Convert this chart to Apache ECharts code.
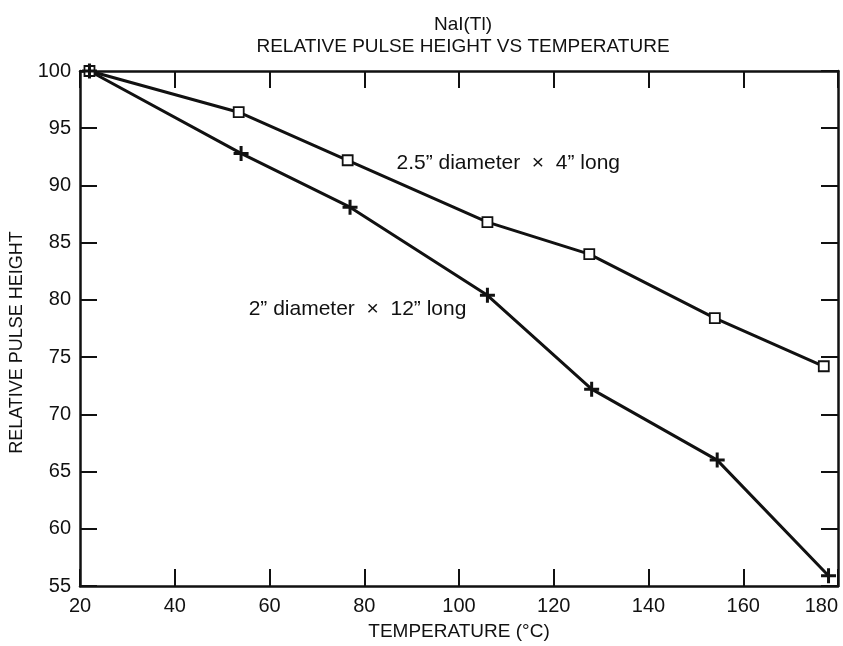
<!DOCTYPE html>
<html>
<head>
<meta charset="utf-8">
<script src="https://cdn.jsdelivr.net/npm/echarts@6/dist/echarts.min.js"></script>
<style>
html,body{margin:0;padding:0;background:#fff;}
#chart{width:843px;height:646px;}
</style>
</head>
<body>
<div id="chart"></div>
<script>
// Data
var titleLines = ['NaI(Tl)', 'RELATIVE PULSE HEIGHT VS TEMPERATURE'];
var xTicks = [20, 40, 60, 80, 100, 120, 140, 160, 180];
var yTicks = [55, 60, 65, 70, 75, 80, 85, 90, 95, 100];
var seriesANames = '2.5\u201d diameter \u00d7 4\u201d long';
var seriesATemp = [22, 53.5, 76.5, 106, 127.5, 154, 177];
var seriesAVal  = [100, 96.4, 92.2, 86.8, 84.0, 78.4, 74.2];
var seriesBNames = '2\u201d diameter \u00d7 12\u201d long';
var seriesBTemp = [22, 54, 77, 106, 128, 154.5, 178];
var seriesBVal  = [100, 92.8, 88.1, 80.4, 72.2, 66.0, 55.9];
var labelAPos = [86.8, 91.9];
var labelBPos = [55.6, 79.2];

function pairs(xs, ys){ return xs.map(function(x,i){ return [x, ys[i]]; }); }

var font = 'Liberation Sans, Arial, sans-serif';
var black = '#111';
var plus = 'path://M4,0h2v4h4v2h-4v4h-2v-4h-4v-2h4z';

var axisCommon = {
  axisLine: {show: true, onZero: false, lineStyle: {color: black, width: 2.5}},
  axisTick: {show: true, inside: true, length: 17, lineStyle: {color: black, width: 2}},
  splitLine: {show: false}
};

var chart = echarts.init(document.getElementById('chart'), null, {renderer: 'canvas'});
chart.setOption({
  backgroundColor: '#fff',
  animation: false,
  title: {
    text: titleLines[0] + '\n' + titleLines[1],
    left: 458, top: 9, textAlign: 'center',
    textStyle: {fontFamily: font, fontWeight: 'normal', fontSize: 19, color: black, lineHeight: 22}
  },
  grid: {left: 79, right: 5, top: 71, bottom: 54, containLabel: false},
  xAxis: [
    Object.assign({}, axisCommon, {
      type: 'value', min: 20, max: 180, interval: 20, position: 'bottom',
      name: 'TEMPERATURE (\u00b0C)', nameLocation: 'middle', nameGap: 36,
      nameTextStyle: {fontFamily: font, fontSize: 19, color: black},
      axisLabel: {fontFamily: font, fontSize: 20, color: black, margin: 10, alignMaxLabel: 'right',
        formatter: function(v){ return xTicks.indexOf(v) >= 0 ? String(v) : ''; }}
    }),
    Object.assign({}, axisCommon, {
      type: 'value', min: 20, max: 180, interval: 20, position: 'top',
      axisLabel: {show: false}
    })
  ],
  yAxis: [
    Object.assign({}, axisCommon, {
      type: 'value', min: 55, max: 100, interval: 5, position: 'left',
      name: 'RELATIVE PULSE HEIGHT', nameLocation: 'middle', nameGap: 54,
      nameTextStyle: {fontFamily: font, fontSize: 18, color: black, padding: [0, 28, 0, 0]},
      axisLabel: {fontFamily: font, fontSize: 20, color: black, margin: 9,
        formatter: function(v){ return yTicks.indexOf(v) >= 0 ? String(v) : ''; }}
    }),
    Object.assign({}, axisCommon, {
      type: 'value', min: 55, max: 100, interval: 5, position: 'right',
      axisLabel: {show: false}
    })
  ],
  series: [
    {
      type: 'line', name: seriesANames, data: pairs(seriesATemp, seriesAVal),
      symbol: 'rect', symbolSize: 10, showAllSymbol: true,
      lineStyle: {color: black, width: 3},
      itemStyle: {color: '#fff', borderColor: black, borderWidth: 1.8},
      z: 3,
      markPoint: {
        symbol: 'circle', symbolSize: 0,
        data: [{coord: labelAPos, value: seriesANames}],
        label: {show: true, position: 'right', distance: 0,
          formatter: seriesANames.replace(' \u00d7 ', '  \u00d7  '),
          fontFamily: font, fontSize: 21, color: black}
      }
    },
    {
      type: 'line', name: seriesBNames, data: pairs(seriesBTemp, seriesBVal),
      symbol: plus, symbolSize: 15, showAllSymbol: true,
      lineStyle: {color: black, width: 3},
      itemStyle: {color: black},
      z: 3,
      markPoint: {
        symbol: 'circle', symbolSize: 0,
        data: [{coord: labelBPos, value: seriesBNames}],
        label: {show: true, position: 'right', distance: 0,
          formatter: seriesBNames.replace(' \u00d7 ', '  \u00d7  '),
          fontFamily: font, fontSize: 21, color: black}
      }
    }
  ]
});
</script>
</body>
</html>
